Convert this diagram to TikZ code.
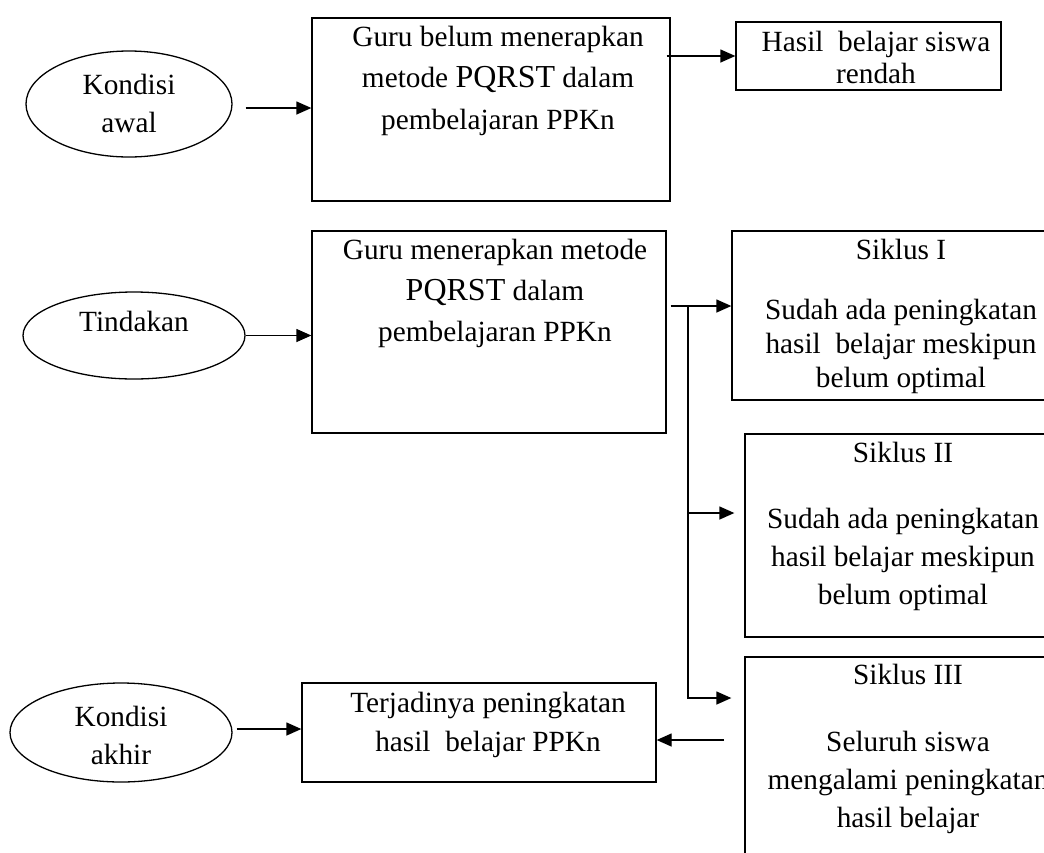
\documentclass[tikz,border=0pt]{standalone}
\usepackage{fontspec}
\setmainfont{Liberation Serif}
\usetikzlibrary{shapes.geometric,arrows.meta,calc}
\begin{document}
\begin{tikzpicture}[x=1pt,y=-1pt,
  line width=1.3pt,
  boxshape/.style={draw,rectangle,inner sep=0pt,line width=1.3pt},
  oval/.style={draw,ellipse,inner sep=0pt,line width=1.3pt},
  txt/.style={inner sep=0pt,align=center,anchor=base,font=\fontsize{29.3}{#1}\selectfont},
  txt/.default=41,
  arr/.style={-{Triangle[length=15pt,width=13pt]},line width=1.3pt},
]
\clip (0,0) rectangle (1044,852);
\fill[white] (0,0) rectangle (1044,852);
\newcommand{\pq}{{\fontsize{32}{41}\selectfont PQRST}}
% shapes
\node[oval,minimum width=206pt,minimum height=106pt] (e1) at (129,104) {};
\node[oval,minimum width=222pt,minimum height=87pt] (e2) at (134,335.5) {};
\node[oval,minimum width=222pt,minimum height=99pt] (e3) at (121,732.5) {};
\node[boxshape,minimum width=358pt,minimum height=183pt] (b1) at (491,109.5) {};
\node[boxshape,minimum width=265pt,minimum height=68pt] (h) at (868.5,56) {};
\node[boxshape,minimum width=354pt,minimum height=202pt] (b2) at (489,332) {};
\node[boxshape,minimum width=338pt,minimum height=169pt] (s1) at (901,315.5) {};
\node[boxshape,minimum width=325pt,minimum height=203pt] (s2) at (907.5,535.5) {};
\node[boxshape,minimum width=325pt,minimum height=223pt] (s3) at (907.5,768.5) {};
\node[boxshape,minimum width=354pt,minimum height=99pt] (t) at (479,732.5) {};
% texts (anchor base = baseline of last line)
\node[txt=38] (te1) at (129,132) {Kondisi\\awal};
\node[txt] (te2) at (134,331) {Tindakan};
\node[txt=38] (te3) at (121,764) {Kondisi\\akhir};
\node[txt=41.5] (tb1) at (498,129) {Guru belum menerapkan\\metode \pq{} dalam\\pembelajaran PPKn};
\node[txt=32] (th) at (876,83) {Hasil\ \ belajar siswa\\rendah};
\node[txt=41] (tb2) at (495,341) {Guru menerapkan metode\\\pq{} dalam\\pembelajaran PPKn};
\node[txt] (ts1a) at (901,259) {Siklus I};
\node[txt=34] (ts1b) at (901,387) {Sudah ada peningkatan\\hasil\ \ belajar meskipun\\belum optimal};
\node[txt] (ts2a) at (903,462) {Siklus II};
\node[txt=38] (ts2b) at (903,604) {Sudah ada peningkatan\\hasil belajar meskipun\\belum optimal};
\node[txt] (ts3a) at (908,684) {Siklus III};
\node[txt=38] (ts3b) at (908,827) {Seluruh siswa\\mengalami peningkatan\\hasil belajar};
\node[txt=39] (tt) at (488,751) {Terjadinya peningkatan\\hasil\ \ belajar PPKn};
% connectors
\coordinate (a1) at ($(e1.east)+(13,4)$);
\draw[arr] (a1) -- (a1 -| b1.west);
\draw[arr] (e2.east) -- (e2.east -| b2.west);
\coordinate (a3) at ($(e3.east)+(4,-3.5)$);
\draw[arr] (a3) -- (a3 -| t.west);
\draw[arr] ([xshift=-4pt]b1.east |- h.west) -- (h.west);
\coordinate (br1) at (688,306);
\coordinate (br2) at (688,513);
\coordinate (br3) at (688,698);
\draw[arr] ([xshift=4pt]b2.east |- br1) -- (br1 -| s1.west);
\draw[arr] (br2) -- ($(br2 -| s2.west)+(-10,0)$);
\draw[arr] (br1) -- (br3) -- ($(br3 -| s3.west)+(-13,0)$);
\coordinate (a4) at (724,740);
\draw[arr] (a4) -- (a4 -| t.east);
\end{tikzpicture}
\end{document}
